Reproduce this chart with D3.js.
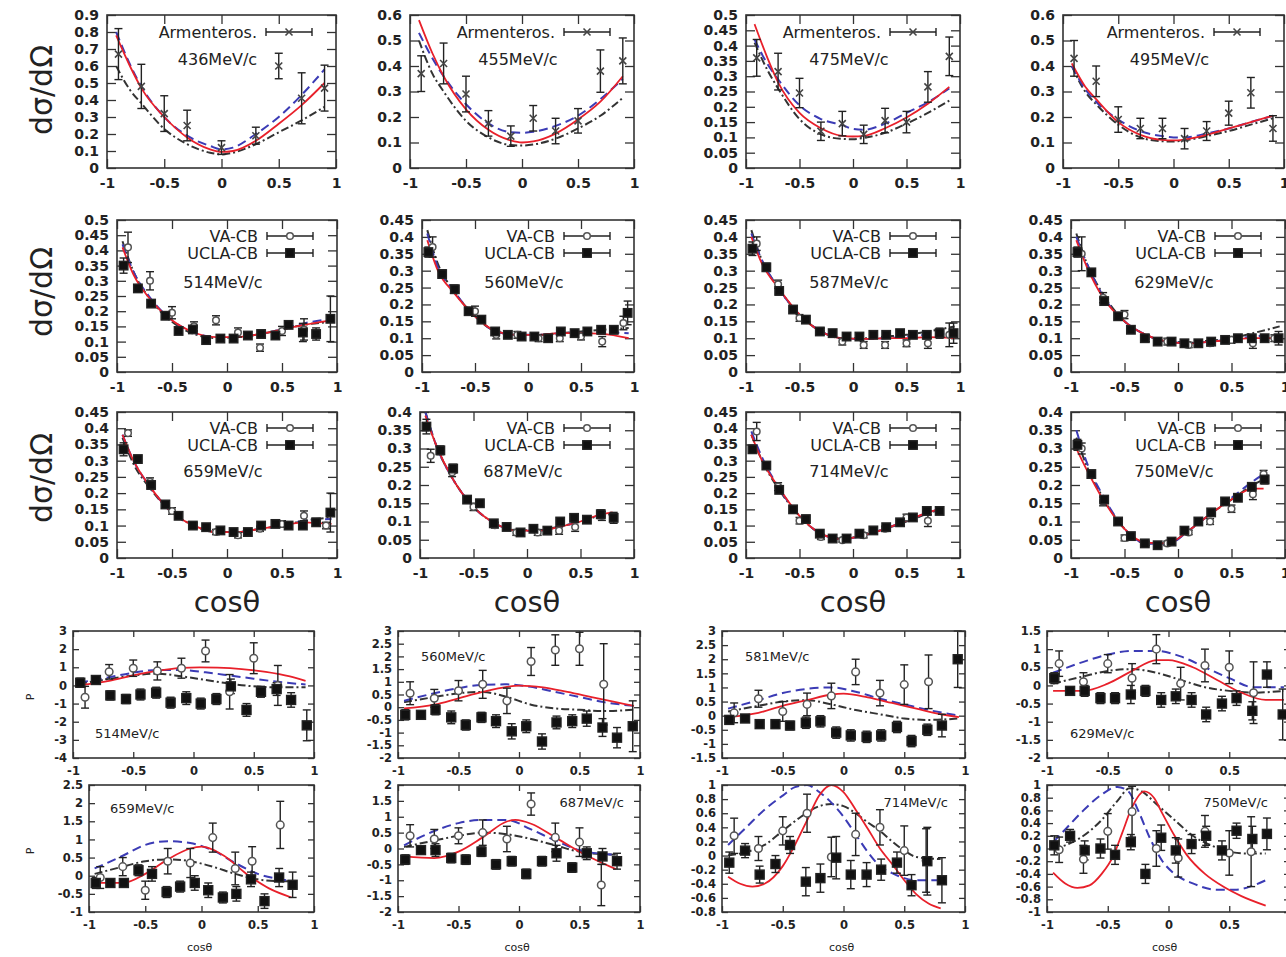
<!DOCTYPE html>
<html>
<head>
<meta charset="UTF-8">
<title>dsigma/dOmega and P</title>
<script src="https://d3js.org/d3.v7.min.js"></script>
<style>
  body { margin: 0; background: #fff; }
  svg text { font-family: "DejaVu Sans", Verdana, sans-serif; fill: #222; }
</style>
</head>
<body>
<script>
// ---------- data ----------
const cosTicks = [-1, -0.5, 0, 0.5, 1];

const dcsEnergies = ["436MeV/c", "455MeV/c", "475MeV/c", "495MeV/c",
                     "514MeV/c", "560MeV/c", "587MeV/c", "629MeV/c",
                     "659MeV/c", "687MeV/c", "714MeV/c", "750MeV/c"];
const polEnergies = ["514MeV/c", "560MeV/c", "581MeV/c", "629MeV/c",
                     "659MeV/c", "687MeV/c", "714MeV/c", "750MeV/c"];

const dcsYMax  = [0.9, 0.6, 0.5, 0.6, 0.5, 0.45, 0.45, 0.45, 0.45, 0.4, 0.45, 0.4];
const dcsYStep = [0.1, 0.1, 0.05, 0.1, 0.05, 0.05, 0.05, 0.05, 0.05, 0.05, 0.05, 0.05];
const polYRange = [[-4, 3], [-2, 3], [-1.5, 3], [-2, 1.5], [-1, 2.5], [-2, 2], [-0.8, 1], [-1, 1]];
const polYStep  = [1, 0.5, 0.5, 0.5, 0.5, 0.5, 0.2, 0.2];

// Armenteros cross sections [cos, value, error]
const armenteros = [
  [[-0.9,0.67,0.15],[-0.7,0.48,0.13],[-0.5,0.32,0.105],[-0.3,0.25,0.09],[0,0.12,0.04],[0.3,0.19,0.05],[0.5,0.6,0.075],[0.7,0.41,0.15],[0.9,0.47,0.135]],
  [[-0.9,0.37,0.07],[-0.7,0.41,0.08],[-0.5,0.29,0.07],[-0.3,0.175,0.05],[-0.1,0.125,0.04],[0.1,0.195,0.05],[0.3,0.145,0.05],[0.5,0.185,0.048],[0.7,0.38,0.083],[0.9,0.42,0.09]],
  [[-0.9,0.36,0.06],[-0.7,0.315,0.06],[-0.5,0.245,0.048],[-0.3,0.12,0.03],[-0.1,0.145,0.04],[0.1,0.11,0.03],[0.3,0.155,0.04],[0.5,0.15,0.035],[0.7,0.265,0.05],[0.9,0.365,0.063]],
  [[-0.9,0.43,0.07],[-0.7,0.34,0.06],[-0.5,0.19,0.05],[-0.3,0.155,0.04],[-0.1,0.155,0.04],[0.1,0.115,0.04],[0.3,0.145,0.037],[0.5,0.215,0.047],[0.7,0.295,0.06],[0.9,0.155,0.05]]
];

// model curves, top row
const armCurveCos = [-0.92, -0.8, -0.7, -0.5, -0.3, -0.1, 0, 0.1, 0.3, 0.5, 0.7, 0.9];
const armRed = [
  [0.78,0.6,0.47,0.3,0.18,0.11,0.095,0.1,0.16,0.26,0.37,0.5],
  [0.58,0.45,0.36,0.23,0.15,0.108,0.1,0.104,0.135,0.19,0.26,0.36],
  [0.47,0.36,0.28,0.18,0.13,0.105,0.103,0.105,0.13,0.165,0.21,0.265],
  [0.41,0.32,0.27,0.18,0.13,0.11,0.108,0.112,0.13,0.155,0.18,0.205]
];
const armBlue = [
  [0.8,0.61,0.48,0.3,0.19,0.13,0.11,0.12,0.2,0.3,0.43,0.58],
  [0.53,0.43,0.36,0.25,0.175,0.14,0.138,0.142,0.165,0.205,0.27,0.35],
  [0.42,0.34,0.29,0.205,0.16,0.14,0.128,0.125,0.145,0.18,0.215,0.26],
  [0.4,0.31,0.26,0.19,0.145,0.125,0.12,0.12,0.135,0.155,0.18,0.205]
];
const armBlack = [
  [0.6,0.46,0.38,0.23,0.14,0.09,0.08,0.09,0.14,0.21,0.28,0.36],
  [0.5,0.37,0.3,0.185,0.12,0.09,0.088,0.092,0.115,0.155,0.205,0.275],
  [0.41,0.32,0.26,0.16,0.11,0.095,0.094,0.098,0.115,0.145,0.18,0.22],
  [0.4,0.3,0.25,0.17,0.12,0.105,0.104,0.108,0.125,0.145,0.17,0.195]
];

// Crystal Barrel cross sections (rows 2-3)
const cbGridFull  = [-0.95, -0.85, -0.7, -0.5, -0.3, -0.1, 0.1, 0.3, 0.5, 0.7, 0.95];
const cbGridShort = [-0.95, -0.85, -0.7, -0.5, -0.3, -0.1, 0.1, 0.3, 0.5, 0.7, 0.8];
const cbGridUsed  = ["full", "full", "full", "full", "full", "short", "short", "short"];
const cbRed = [
  [0.41,0.32,0.24,0.17,0.13,0.115,0.115,0.125,0.14,0.155,0.17],
  [0.39,0.3,0.235,0.165,0.12,0.11,0.11,0.115,0.115,0.113,0.1],
  [0.4,0.32,0.25,0.17,0.12,0.1,0.098,0.1,0.1,0.103,0.1],
  [0.39,0.31,0.22,0.15,0.11,0.09,0.085,0.09,0.095,0.1,0.1],
  [0.38,0.3,0.22,0.14,0.1,0.08,0.08,0.09,0.1,0.11,0.105],
  [0.39,0.31,0.22,0.14,0.095,0.075,0.075,0.085,0.1,0.12,0.125],
  [0.38,0.3,0.22,0.13,0.075,0.058,0.07,0.09,0.115,0.14,0.15],
  [0.3,0.24,0.16,0.08,0.042,0.04,0.075,0.12,0.16,0.19,0.19]
];
const cbBlue = [
  [0.42,0.33,0.245,0.17,0.13,0.115,0.115,0.125,0.14,0.16,0.175],
  [0.41,0.31,0.24,0.165,0.12,0.11,0.11,0.115,0.117,0.118,0.115],
  [0.41,0.33,0.25,0.17,0.12,0.1,0.098,0.1,0.105,0.11,0.115],
  [0.4,0.32,0.225,0.15,0.11,0.09,0.085,0.09,0.097,0.105,0.11],
  [0.38,0.3,0.22,0.14,0.1,0.08,0.08,0.09,0.1,0.115,0.12],
  [0.4,0.31,0.22,0.14,0.095,0.075,0.075,0.085,0.1,0.118,0.122],
  [0.39,0.31,0.22,0.13,0.075,0.058,0.07,0.09,0.115,0.14,0.15],
  [0.35,0.26,0.17,0.08,0.04,0.038,0.075,0.12,0.165,0.21,0.23]
];
const cbBlack = [
  [0.43,0.33,0.24,0.165,0.125,0.112,0.115,0.125,0.14,0.155,0.165],
  [0.42,0.32,0.24,0.165,0.12,0.11,0.11,0.115,0.12,0.125,0.13],
  [0.42,0.33,0.25,0.17,0.12,0.1,0.1,0.105,0.11,0.12,0.135],
  [0.41,0.32,0.23,0.15,0.11,0.09,0.088,0.093,0.1,0.115,0.135],
  [0.37,0.29,0.215,0.14,0.1,0.08,0.08,0.09,0.1,0.115,0.125],
  [0.4,0.31,0.22,0.14,0.095,0.076,0.076,0.086,0.1,0.117,0.12],
  [0.38,0.3,0.215,0.13,0.075,0.06,0.07,0.09,0.112,0.137,0.148],
  [0.33,0.25,0.165,0.08,0.04,0.04,0.075,0.12,0.16,0.2,0.215]
];

// VA-CB points [cos, value, error]
const vaDcs = [
  [[-0.9,0.41,0.05],[-0.7,0.3,0.03],[-0.5,0.195,0.02],[-0.3,0.15,0.015],[-0.1,0.17,0.015],[0.1,0.13,0.015],[0.3,0.08,0.012],[0.5,0.135,0.015],[0.7,0.14,0.035]],
  [[-0.9,0.37,0.03],[-0.7,0.245,0.012],[-0.5,0.18,0.015],[-0.3,0.11,0.012],[-0.1,0.11,0.01],[0.1,0.1,0.01],[0.3,0.1,0.01],[0.5,0.105,0.01],[0.7,0.09,0.015],[0.9,0.145,0.02]],
  [[-0.9,0.38,0.02],[-0.7,0.26,0.012],[-0.5,0.16,0.01],[-0.3,0.12,0.01],[-0.1,0.09,0.01],[0.1,0.08,0.01],[0.3,0.08,0.01],[0.5,0.085,0.01],[0.7,0.085,0.015],[0.9,0.11,0.035]],
  [[-0.9,0.35,0.05],[-0.7,0.22,0.015],[-0.5,0.17,0.012],[-0.3,0.1,0.01],[-0.1,0.09,0.01],[0.1,0.08,0.008],[0.3,0.085,0.008],[0.5,0.095,0.01],[0.7,0.085,0.015],[0.9,0.1,0.01]],
  [[-0.9,0.385,0.01],[-0.7,0.235,0.012],[-0.5,0.145,0.01],[-0.3,0.1,0.008],[-0.1,0.08,0.008],[0.1,0.07,0.008],[0.3,0.09,0.008],[0.5,0.105,0.01],[0.7,0.13,0.015],[0.9,0.1,0.01]],
  [[-0.9,0.28,0.018],[-0.7,0.235,0.012],[-0.5,0.14,0.01],[-0.3,0.09,0.008],[-0.1,0.07,0.008],[0.1,0.07,0.008],[0.3,0.075,0.01],[0.45,0.085,0.012],[0.7,0.115,0.012]],
  [[-0.9,0.39,0.028],[-0.7,0.22,0.012],[-0.5,0.115,0.01],[-0.3,0.065,0.008],[-0.1,0.055,0.006],[0.1,0.07,0.008],[0.3,0.09,0.008],[0.5,0.125,0.01],[0.7,0.115,0.018]],
  [[-0.9,0.3,0.015],[-0.7,0.155,0.012],[-0.5,0.055,0.008],[-0.3,0.04,0.006],[-0.1,0.04,0.006],[0.1,0.07,0.006],[0.3,0.1,0.008],[0.5,0.135,0.01],[0.7,0.175,0.015],[0.8,0.23,0.01]]
];

// UCLA-CB points on a common cos grid
const uclaCos = [-0.94,-0.81,-0.69,-0.56,-0.44,-0.31,-0.19,-0.06,0.06,0.19,0.31,0.44,0.56,0.69,0.81,0.94];
const uclaDcs = [
  [0.35,0.275,0.225,0.185,0.135,0.14,0.105,0.11,0.11,0.12,0.125,0.12,0.155,0.13,0.125,0.175],
  [0.355,0.29,0.245,0.18,0.155,0.12,0.11,0.105,0.105,0.1,0.12,0.115,0.12,0.125,0.125,0.175],
  [0.365,0.31,0.24,0.185,0.155,0.12,0.115,0.105,0.105,0.11,0.11,0.115,0.11,0.11,0.115,0.115],
  [0.355,0.295,0.21,0.165,0.125,0.1,0.09,0.09,0.085,0.085,0.09,0.095,0.1,0.1,0.1,0.1],
  [0.335,0.305,0.225,0.165,0.13,0.1,0.095,0.085,0.08,0.08,0.1,0.105,0.1,0.1,0.11,0.14],
  [0.36,0.295,0.245,0.16,0.15,0.095,0.085,0.07,0.08,0.075,0.1,0.11,0.105,0.12,0.11,null],
  [0.335,0.285,0.21,0.15,0.12,0.075,0.06,0.06,0.075,0.085,0.095,0.11,0.125,0.145,0.145,null],
  [0.31,0.23,0.16,0.1,0.06,0.04,0.035,0.045,0.075,0.1,0.125,0.155,0.165,0.195,0.215,null]
];
const uclaDcsErr = [
  [0.025,0.01,0.01,0.012,0.01,0.012,0.008,0.008,0.01,0.01,0.012,0.01,0.01,0.03,0.02,0.075],
  [0.015,0.012,0.012,0.01,0.01,0.01,0.008,0.008,0.008,0.008,0.01,0.01,0.01,0.012,0.012,0.035],
  [0.02,0.012,0.012,0.01,0.01,0.008,0.008,0.008,0.008,0.008,0.01,0.01,0.01,0.012,0.015,0.03],
  [0.015,0.01,0.01,0.01,0.008,0.008,0.008,0.008,0.008,0.008,0.008,0.008,0.008,0.01,0.01,0.02],
  [0.02,0.01,0.012,0.01,0.01,0.008,0.008,0.008,0.008,0.008,0.008,0.01,0.01,0.01,0.012,0.06],
  [0.02,0.012,0.012,0.01,0.01,0.008,0.008,0.008,0.008,0.008,0.01,0.01,0.01,0.012,0.015,0],
  [0.012,0.01,0.01,0.008,0.008,0.008,0.006,0.006,0.006,0.006,0.008,0.008,0.008,0.01,0.01,0],
  [0.015,0.01,0.01,0.008,0.006,0.006,0.006,0.006,0.006,0.008,0.008,0.008,0.008,0.01,0.012,0]
];

// polarization: VA-CB [cos, P, error]
const vaPol = [
  [[-0.9,-0.65,0.6],[-0.7,0.75,0.4],[-0.5,0.95,0.45],[-0.3,0.8,0.5],[-0.1,0.95,0.55],[0.1,1.9,0.6],[0.3,-0.35,0.95],[0.5,1.5,0.85],[0.7,0.0,1.1]],
  [[-0.9,0.55,0.45],[-0.7,0.35,0.35],[-0.5,0.65,0.4],[-0.3,0.9,0.55],[-0.1,0.25,0.5],[0.1,1.8,0.55],[0.3,2.25,0.6],[0.5,2.3,0.65],[0.7,0.9,1.6]],
  [[-0.9,0.1,0.35],[-0.7,0.6,0.3],[-0.5,0.15,0.35],[-0.3,0.4,0.4],[-0.1,0.7,0.45],[0.1,1.55,0.45],[0.3,0.8,0.45],[0.5,1.1,0.7],[0.7,1.2,0.95]],
  [[-0.9,0.6,0.35],[-0.7,0.1,0.25],[-0.5,0.6,0.25],[-0.3,0.2,0.4],[-0.1,1.0,0.4],[0.1,0.05,0.45],[0.3,0.55,0.45],[0.5,0.5,0.45],[0.7,-0.2,0.85]],
  [[-0.9,-0.05,0.3],[-0.7,0.25,0.25],[-0.5,-0.4,0.25],[-0.3,0.4,0.35],[-0.1,0.35,0.4],[0.1,1.05,0.4],[0.3,0.2,0.45],[0.45,0.4,0.4],[0.7,1.4,0.65]],
  [[-0.9,0.4,0.35],[-0.7,0.3,0.3],[-0.5,0.4,0.25],[-0.3,0.5,0.4],[-0.1,0.3,0.4],[0.1,1.4,0.35],[0.3,0.35,0.45],[0.5,0.2,0.45],[0.68,-1.15,0.65]],
  [[-0.9,0.28,0.25],[-0.7,0.1,0.17],[-0.5,0.35,0.2],[-0.3,0.6,0.27],[-0.1,-0.02,0.28],[0.1,0.3,0.3],[0.3,0.4,0.25],[0.5,0.07,0.35],[0.68,-0.07,0.45]],
  [[-0.9,-0.02,0.2],[-0.7,-0.17,0.22],[-0.5,0.27,0.28],[-0.3,0.58,0.4],[-0.1,0.0,0.28],[0.08,-0.15,0.3],[0.3,0.27,0.25],[0.5,-0.07,0.35],[0.68,-0.05,0.55]]
];
// polarization: UCLA-CB on uclaCos
const uclaPol = [
  [0.15,0.3,-0.55,-0.75,-0.5,-0.4,-0.95,-0.7,-1.0,-0.75,-0.05,-1.35,-0.35,-0.2,-0.8,-2.2],
  [-0.3,-0.3,-0.1,-0.4,-0.7,-0.4,-0.55,-0.95,-0.75,-1.35,-0.6,-0.55,-0.45,-0.8,-1.2,-0.75],
  [-0.15,-0.1,-0.3,-0.3,-0.35,-0.25,-0.2,-0.6,-0.7,-0.75,-0.7,-0.4,-0.9,-0.5,-0.35,2.0],
  [0.2,-0.15,-0.15,-0.35,-0.35,-0.25,-0.15,-0.4,-0.3,-0.4,-0.8,-0.5,-0.35,-0.7,0.3,-0.8],
  [-0.2,-0.2,-0.2,0.15,0.05,-0.45,-0.3,-0.2,-0.4,-0.6,-0.5,-0.1,-0.7,-0.05,-0.25,null],
  [-0.35,-0.05,-0.05,-0.3,-0.35,-0.1,-0.5,-0.4,-0.8,-0.4,-0.15,-0.6,-0.15,-0.25,-0.4,null],
  [-0.1,0.07,-0.27,-0.12,0.15,-0.37,-0.32,-0.03,-0.27,-0.27,-0.2,-0.1,-0.42,-0.08,-0.35,null],
  [0.05,0.2,-0.03,0.0,-0.1,0.1,-0.4,0.17,-0.03,0.07,0.2,-0.03,0.28,0.15,0.23,null]
];
const uclaPolErr = [
  [0.25,0.2,0.25,0.25,0.3,0.3,0.3,0.35,0.3,0.3,0.4,0.35,0.3,0.35,0.4,0.85],
  [0.2,0.15,0.2,0.25,0.2,0.2,0.25,0.3,0.25,0.3,0.25,0.25,0.3,0.35,0.4,1.0],
  [0.15,0.1,0.1,0.15,0.15,0.2,0.2,0.2,0.2,0.2,0.2,0.2,0.2,0.2,0.4,1.0],
  [0.15,0.1,0.15,0.15,0.15,0.25,0.15,0.2,0.2,0.2,0.2,0.2,0.2,0.25,0.35,0.7],
  [0.15,0.1,0.1,0.15,0.2,0.15,0.15,0.2,0.2,0.15,0.2,0.2,0.2,0.25,0.35,0],
  [0.15,0.1,0.2,0.15,0.15,0.15,0.15,0.15,0.15,0.15,0.25,0.15,0.2,0.25,0.25,0],
  [0.15,0.1,0.12,0.12,0.12,0.2,0.2,0.3,0.2,0.17,0.15,0.15,0.15,0.48,0.32,0],
  [0.15,0.1,0.15,0.15,0.15,0.12,0.15,0.2,0.2,0.15,0.15,0.15,0.12,0.2,0.25,0]
];

// polarization model curves [cos, P]
const polRed = [
  [[-0.95,0.0],[-0.7,0.25],[-0.5,0.55],[-0.3,0.8],[-0.1,0.97],[0.05,1.0],[0.2,0.98],[0.4,0.9],[0.6,0.75],[0.8,0.5],[0.93,0.25]],
  [[-0.95,-0.05],[-0.7,0.1],[-0.5,0.35],[-0.3,0.6],[-0.1,0.8],[0,0.85],[0.2,0.78],[0.4,0.6],[0.6,0.4],[0.8,0.2],[0.95,0.05]],
  [[-0.95,-0.05],[-0.7,0.1],[-0.5,0.35],[-0.3,0.55],[-0.1,0.75],[0,0.78],[0.2,0.65],[0.4,0.45],[0.6,0.25],[0.8,0.05],[0.95,-0.05]],
  [[-0.95,-0.15],[-0.7,-0.15],[-0.5,0.05],[-0.3,0.4],[-0.1,0.7],[0,0.7],[0.2,0.5],[0.4,0.15],[0.6,-0.2],[0.8,-0.4],[0.95,-0.4]],
  [[-0.95,-0.2],[-0.7,-0.2],[-0.5,0.05],[-0.3,0.45],[-0.1,0.75],[0,0.8],[0.2,0.55],[0.4,0.05],[0.6,-0.35],[0.8,-0.6]],
  [[-0.95,-0.25],[-0.7,-0.3],[-0.5,-0.1],[-0.3,0.35],[-0.1,0.85],[-0.03,0.9],[0.1,0.78],[0.3,0.35],[0.5,-0.1],[0.8,-0.65]],
  [[-0.95,-0.3],[-0.85,-0.4],[-0.75,-0.44],[-0.65,-0.4],[-0.5,-0.15],[-0.4,0.15],[-0.3,0.5],[-0.2,0.85],[-0.1,1.0],[0,0.9],[0.1,0.65],[0.2,0.38],[0.3,0.1],[0.4,-0.12],[0.5,-0.35],[0.6,-0.55],[0.7,-0.68],[0.8,-0.75]],
  [[-0.95,-0.38],[-0.85,-0.55],[-0.75,-0.62],[-0.65,-0.58],[-0.55,-0.4],[-0.45,-0.1],[-0.38,0.25],[-0.3,0.65],[-0.2,0.9],[-0.12,0.8],[-0.05,0.55],[0.05,0.2],[0.15,-0.1],[0.3,-0.4],[0.45,-0.6],[0.6,-0.75],[0.8,-0.9]]
];
const polBlue = [
  [[-0.95,0.15],[-0.7,0.45],[-0.5,0.7],[-0.3,0.85],[-0.1,0.85],[0.1,0.72],[0.3,0.55],[0.5,0.37],[0.7,0.2],[0.93,0.05]],
  [[-0.95,0.25],[-0.7,0.55],[-0.5,0.75],[-0.3,0.88],[-0.1,0.9],[0.1,0.8],[0.3,0.6],[0.5,0.4],[0.7,0.2],[0.95,0.05]],
  [[-0.95,0.25],[-0.7,0.55],[-0.5,0.8],[-0.3,0.95],[-0.1,1.0],[0.1,0.85],[0.3,0.6],[0.5,0.4],[0.7,0.2],[0.95,0.0]],
  [[-0.95,0.35],[-0.7,0.65],[-0.5,0.85],[-0.3,0.95],[-0.1,0.95],[0.1,0.8],[0.3,0.5],[0.5,0.2],[0.7,-0.05],[0.95,-0.05]],
  [[-0.95,0.2],[-0.7,0.55],[-0.5,0.85],[-0.3,0.95],[-0.1,0.9],[0.1,0.7],[0.3,0.35],[0.5,0.05],[0.7,-0.1],[0.8,-0.15]],
  [[-0.95,0.1],[-0.7,0.55],[-0.5,0.8],[-0.3,0.9],[-0.1,0.9],[0.1,0.6],[0.3,0.25],[0.5,-0.05],[0.8,-0.2]],
  [[-0.95,0.15],[-0.8,0.4],[-0.65,0.65],[-0.5,0.85],[-0.4,0.97],[-0.3,1.0],[-0.2,0.9],[-0.1,0.75],[0,0.55],[0.1,0.3],[0.2,0.05],[0.3,-0.15],[0.4,-0.25],[0.5,-0.32],[0.6,-0.35],[0.8,-0.35]],
  [[-0.95,0.1],[-0.85,0.3],[-0.7,0.6],[-0.55,0.85],[-0.42,0.97],[-0.33,0.9],[-0.25,0.6],[-0.15,0.15],[-0.05,-0.2],[0.05,-0.4],[0.2,-0.55],[0.4,-0.65],[0.55,-0.65],[0.7,-0.58],[0.8,-0.5]]
];
const polBlack = [
  [[-0.95,0.1],[-0.7,0.35],[-0.5,0.55],[-0.3,0.65],[-0.1,0.5],[0.1,0.3],[0.3,0.1],[0.5,-0.05],[0.7,-0.1],[0.93,-0.1]],
  [[-0.95,0.2],[-0.7,0.4],[-0.5,0.55],[-0.3,0.6],[-0.1,0.4],[0.1,0.1],[0.3,-0.05],[0.5,-0.1],[0.7,-0.15],[0.95,-0.1]],
  [[-0.95,0.15],[-0.7,0.35],[-0.5,0.5],[-0.3,0.55],[-0.1,0.4],[0.1,0.2],[0.3,0.05],[0.5,-0.1],[0.7,-0.15],[0.95,-0.1]],
  [[-0.95,0.05],[-0.7,0.25],[-0.5,0.4],[-0.3,0.45],[-0.1,0.35],[0.1,0.15],[0.3,-0.05],[0.5,-0.15],[0.7,-0.2],[0.95,-0.15]],
  [[-0.95,0.05],[-0.7,0.25],[-0.5,0.4],[-0.3,0.45],[-0.1,0.4],[0.1,0.25],[0.3,0.05],[0.5,-0.1],[0.7,-0.15],[0.8,-0.15]],
  [[-0.95,0.05],[-0.7,0.25],[-0.5,0.4],[-0.3,0.5],[-0.1,0.45],[0.1,0.3],[0.3,0.1],[0.5,-0.1],[0.8,-0.2]],
  [[-0.95,0.0],[-0.8,0.05],[-0.65,0.15],[-0.5,0.35],[-0.35,0.55],[-0.2,0.7],[-0.1,0.73],[0,0.7],[0.1,0.6],[0.2,0.47],[0.3,0.35],[0.4,0.2],[0.5,0.07],[0.6,-0.02],[0.8,-0.05]],
  [[-0.95,0.0],[-0.85,0.05],[-0.7,0.2],[-0.55,0.45],[-0.42,0.75],[-0.32,0.95],[-0.22,0.9],[-0.1,0.7],[0.05,0.45],[0.2,0.2],[0.35,0.05],[0.5,-0.05],[0.65,-0.08],[0.8,-0.08]]
];

// ---------- layout ----------
const W = 1286, H = 957;
const rowBox = [[15, 168], [220, 372], [412, 558], [631, 758], [785, 912]];
const colBox = [
  [[107, 336], [410, 634], [746, 960], [1063, 1284]],
  [[117, 337], [422, 634], [746, 960], [1071, 1285]],
  [[117, 337], [420, 634], [746, 960], [1071, 1285]],
  [[73, 314], [398, 640], [722, 965], [1047, 1290]],
  [[89, 314], [398, 640], [722, 965], [1047, 1290]]
];
// polarization energy label placement: [anchor, dx, dy, measured from]
const polLabelPos = [
  ["start", 22, -20, "bottom"], ["start", 23, 30, "top"], ["start", 23, 30, "top"], ["start", 23, -20, "bottom"],
  ["start", 21, 28, "top"], ["end", -16, 22, "top"], ["end", -17, 22, "top"], ["end", -22, 22, "top"]
];

const RED = "#e8202a", BLUE = "#3b3bb5", BLACK = "#333";
const TICK_TEXT = "#2c3250";

const svg = d3.select("body").append("svg")
  .attr("width", W).attr("height", H)
  .style("background", "#fff");

function tickRange(min, max, step) {
  const n = Math.round((max - min) / step);
  return d3.range(n + 1).map(i => +(min + i * step).toFixed(3));
}

function errorBar(g, x, y, cx, cy, e, cap) {
  if (e <= 0) return;
  const top = y(cy + e), bot = y(cy - e), px = x(cx);
  g.append("line").attr("x1", px).attr("x2", px).attr("y1", top).attr("y2", bot);
  g.append("line").attr("x1", px - cap).attr("x2", px + cap).attr("y1", top).attr("y2", top);
  g.append("line").attr("x1", px - cap).attr("x2", px + cap).attr("y1", bot).attr("y2", bot);
}

function marker(g, kind, px, py, small) {
  if (kind === "cross") {
    g.append("path").attr("d", `M${px - 3.5},${py - 3.5}L${px + 3.5},${py + 3.5}M${px - 3.5},${py + 3.5}L${px + 3.5},${py - 3.5}`)
      .attr("stroke", "#444").attr("stroke-width", 1.6).attr("fill", "none");
  } else if (kind === "circle") {
    g.append("circle").attr("cx", px).attr("cy", py).attr("r", small ? 3.8 : 3.3)
      .attr("fill", "#fff").attr("stroke", "#555").attr("stroke-width", 1.5);
  } else {
    const s = small ? 9 : 8.5;
    g.append("rect").attr("x", px - s / 2).attr("y", py - s / 2).attr("width", s).attr("height", s)
      .attr("fill", "#111");
  }
}

let clipId = 0;
function drawPanel(p) {
  const x = d3.scaleLinear().domain([-1, 1]).range([p.x0, p.x1]);
  const y = d3.scaleLinear().domain(p.yDomain).range([p.y1, p.y0]);
  const g = svg.append("g");
  const fs = p.small ? 11.5 : 14;
  const tl = p.small ? 6 : 9;
  const fmt = d => String(d);

  const id = "clip" + (clipId++);
  svg.append("clipPath").attr("id", id).append("rect")
    .attr("x", p.x0).attr("y", p.y0).attr("width", p.x1 - p.x0).attr("height", p.y1 - p.y0);

  const axes = [
    [d3.axisLeft(y).tickValues(p.yTicks).tickFormat(fmt).tickPadding(p.small ? 6 : 8), `translate(${p.x0},0)`],
    [d3.axisRight(y).tickValues(p.yTicks).tickFormat(() => ""), `translate(${p.x1},0)`],
    [d3.axisBottom(x).tickValues(cosTicks).tickFormat(fmt).tickPadding(p.small ? 9 : 10), `translate(0,${p.y1})`],
    [d3.axisTop(x).tickValues(cosTicks).tickFormat(() => ""), `translate(0,${p.y0})`]
  ];
  axes.forEach(([ax, tr]) => {
    const a = g.append("g").attr("transform", tr)
      .call(ax.tickSizeInner(-tl).tickSizeOuter(0));
    a.attr("font-size", fs).attr("font-family", '"DejaVu Sans", Verdana, sans-serif')
      .attr("font-weight", "bold");
    a.select(".domain").remove();
    a.selectAll(".tick line").attr("stroke", "#333").attr("stroke-width", 1.3);
    a.selectAll(".tick text").attr("fill", TICK_TEXT);
  });

  // model curves
  const line = d3.line().x(d => x(d[0])).y(d => y(d[1])).curve(d3.curveMonotoneX);
  const cg = g.append("g").attr("clip-path", `url(#${id})`).attr("fill", "none");
  cg.append("path").attr("d", line(p.black)).attr("stroke", BLACK).attr("stroke-width", 2)
    .attr("stroke-dasharray", "8,3,2,3");
  cg.append("path").attr("d", line(p.blue)).attr("stroke", BLUE).attr("stroke-width", 2)
    .attr("stroke-dasharray", "9,5");
  cg.append("path").attr("d", line(p.red)).attr("stroke", RED).attr("stroke-width", 1.8);

  // data points
  const dg = g.append("g").attr("stroke", "#222").attr("stroke-width", 1.4);
  const cap = 4;
  (p.crosses || []).forEach(d => { errorBar(dg, x, y, d[0], d[1], d[2], cap); marker(dg, "cross", x(d[0]), y(d[1])); });
  (p.circles || []).forEach(d => { errorBar(dg, x, y, d[0], d[1], d[2], cap); });
  (p.squares || []).forEach(d => { errorBar(dg, x, y, d[0], d[1], d[2], cap); });
  (p.circles || []).forEach(d => marker(dg, "circle", x(d[0]), y(d[1]), p.small));
  (p.squares || []).forEach(d => marker(dg, "square", x(d[0]), y(d[1]), p.small));

  // frame
  g.append("rect").attr("x", p.x0).attr("y", p.y0)
    .attr("width", p.x1 - p.x0).attr("height", p.y1 - p.y0)
    .attr("fill", "none").attr("stroke", "#333").attr("stroke-width", 1.6);

  // legend
  const lg = g.append("g").attr("stroke", "#222").attr("stroke-width", 1.4);
  const lx0 = p.x1 - 70, lx1 = p.x1 - 24, lmid = (lx0 + lx1) / 2;
  const legendRow = (ly, label, kind) => {
    lg.append("line").attr("x1", lx0).attr("x2", lx1).attr("y1", ly).attr("y2", ly);
    lg.append("line").attr("x1", lx0).attr("x2", lx0).attr("y1", ly - 4).attr("y2", ly + 4);
    lg.append("line").attr("x1", lx1).attr("x2", lx1).attr("y1", ly - 4).attr("y2", ly + 4);
    marker(lg, kind, lmid, ly, false);
    g.append("text").attr("x", p.x1 - 79).attr("y", ly).attr("dy", "0.35em")
      .attr("text-anchor", "end").attr("font-size", 16).text(label);
  };
  if (p.legend === "arm") legendRow(p.y0 + 17, "Armenteros.", "cross");
  if (p.legend === "cb") { legendRow(p.y0 + 16, "VA-CB", "circle"); legendRow(p.y0 + 33, "UCLA-CB", "square"); }

  // energy label
  if (!p.small) {
    g.append("text").attr("x", (p.x0 + p.x1) / 2 - 4).attr("y", p.y0 + p.labelDy)
      .attr("text-anchor", "middle").attr("font-size", 16).text(p.energy);
  } else {
    const [anchor, dx, dy, ref] = p.labelPos;
    g.append("text").attr("x", (anchor === "start" ? p.x0 : p.x1) + dx)
      .attr("y", (ref === "top" ? p.y0 : p.y1) + dy)
      .attr("text-anchor", anchor).attr("font-size", 13).attr("fill", "#333").text(p.energy);
  }
}

// ---------- build panels ----------
for (let c = 0; c < 4; c++) {
  const [x0, x1] = colBox[0][c];
  drawPanel({
    x0, x1, y0: rowBox[0][0], y1: rowBox[0][1],
    yDomain: [0, dcsYMax[c]], yTicks: tickRange(0, dcsYMax[c], dcsYStep[c]),
    red: d3.zip(armCurveCos, armRed[c]), blue: d3.zip(armCurveCos, armBlue[c]), black: d3.zip(armCurveCos, armBlack[c]),
    crosses: armenteros[c], legend: "arm", energy: dcsEnergies[c], labelDy: 50
  });
}
for (let k = 0; k < 8; k++) {
  const r = 1 + Math.floor(k / 4), c = k % 4, i = 4 + k;
  const [x0, x1] = colBox[r][c];
  const grid = cbGridUsed[k] === "full" ? cbGridFull : cbGridShort;
  const squares = uclaCos.map((cs, j) => [cs, uclaDcs[k][j], uclaDcsErr[k][j]]).filter(d => d[1] != null);
  drawPanel({
    x0, x1, y0: rowBox[r][0], y1: rowBox[r][1],
    yDomain: [0, dcsYMax[i]], yTicks: tickRange(0, dcsYMax[i], dcsYStep[i]),
    red: d3.zip(grid, cbRed[k]), blue: d3.zip(grid, cbBlue[k]), black: d3.zip(grid, cbBlack[k]),
    circles: vaDcs[k], squares, legend: "cb", energy: dcsEnergies[i], labelDy: r === 1 ? 68 : 65
  });
}
for (let k = 0; k < 8; k++) {
  const r = 3 + Math.floor(k / 4), c = k % 4;
  const [x0, x1] = colBox[r][c];
  const [lo, hi] = polYRange[k];
  const squares = uclaCos.map((cs, j) => [cs, uclaPol[k][j], uclaPolErr[k][j]]).filter(d => d[1] != null);
  drawPanel({
    x0, x1, y0: rowBox[r][0], y1: rowBox[r][1], small: true,
    yDomain: [lo, hi], yTicks: tickRange(lo, hi, polYStep[k]),
    red: polRed[k], blue: polBlue[k], black: polBlack[k],
    circles: vaPol[k], squares, energy: polEnergies[k], labelPos: polLabelPos[k]
  });
}

// ---------- axis titles ----------
[90, 292, 478].forEach(cy => {
  svg.append("text").attr("transform", `translate(52,${cy}) rotate(-90)`)
    .attr("text-anchor", "middle").attr("font-size", 30).attr("fill", "#333").text("dσ/dΩ");
});
[697, 851].forEach(cy => {
  svg.append("text").attr("transform", `translate(34,${cy}) rotate(-90)`)
    .attr("text-anchor", "middle").attr("font-size", 11).attr("fill", "#333").text("P");
});
colBox[2].forEach(([x0, x1]) => {
  svg.append("text").attr("x", (x0 + x1) / 2).attr("y", 612)
    .attr("text-anchor", "middle").attr("font-size", 29).attr("fill", "#333").text("cosθ");
});
colBox[4].forEach(([x0, x1]) => {
  svg.append("text").attr("x", (x0 + Math.min(x1, 1286)) / 2 - 2).attr("y", 951)
    .attr("text-anchor", "middle").attr("font-size", 11).attr("fill", "#333").text("cosθ");
});
</script>
</body>
</html>
